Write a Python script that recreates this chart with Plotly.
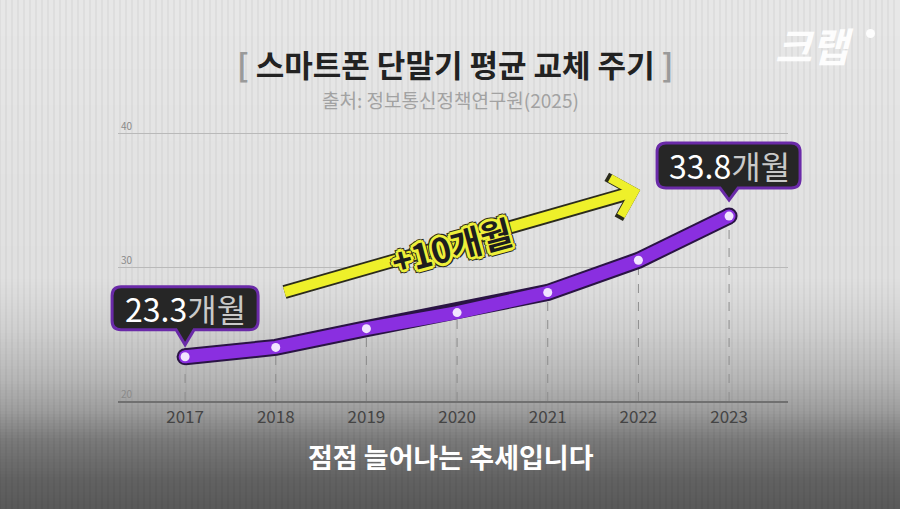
import plotly.graph_objects as go

# ---------------- data ----------------
years = [2017, 2018, 2019, 2020, 2021, 2022, 2023]
months = [23.3, 24.0, 25.4, 26.6, 28.1, 30.5, 33.8]
y_ticks = [20, 30, 40]
title_text = "스마트폰 단말기 평균 교체 주기"
source_text = "출처: 정보통신정책연구원(2025)"
caption_text = "점점 늘어나는 추세입니다"
growth_label = "+10개월"
unit_text = "개월"
logo_text = "크랩"
arrow_tail = (2018.08, 28.1)
arrow_head = (2022.02, 35.75)
label_pos = (2019.94, 31.6)

# ---------------- geometry helpers ----------------
W, H = 900, 509
ML, MR, MT, MB = 118, 112, 110, 108
PW, PH = W - ML - MR, H - MT - MB
FONT = "Noto Sans CJK KR"
X_RANGE = [2016.26, 2023.65]
Y_RANGE = [20, 20 + PH / 13.4]


def xp(p):
    return (p - ML) / PW


def yp(p):
    return (H - MB - p) / PH


def x_to_paper(v):
    return (v - X_RANGE[0]) / (X_RANGE[1] - X_RANGE[0])


def y_to_paper(v):
    return (v - Y_RANGE[0]) / (Y_RANGE[1] - Y_RANGE[0])


def bubble(xl, xr, yb, yt, r, tip, hw):
    return (f"M {xl + r},{yb} L {-hw},{yb} L 0,{tip} L {hw},{yb} L {xr - r},{yb} "
            f"Q {xr},{yb} {xr},{yb + r} L {xr},{yt - r} Q {xr},{yt} {xr - r},{yt} "
            f"L {xl + r},{yt} Q {xl},{yt} {xl},{yt - r} L {xl},{yb + r} Q {xl},{yb} {xl + r},{yb} Z")


shapes = []
# background gradient (pixel rows)
stops = [(0, 0xe8), (280, 0xe0), (330, 0xd0), (380, 0xb6), (410, 0x9e),
         (440, 0x7a), (480, 0x62), (509, 0x5a)]


def grey_at(p):
    for (p0, c0), (p1, c1) in zip(stops[:-1], stops[1:]):
        if p0 <= p <= p1:
            return int(c0 + (c1 - c0) * (p - p0) / (p1 - p0))
    return stops[-1][1]


step = 3
for p in range(0, 509, step):
    g = grey_at(p + step / 2)
    shapes.append(dict(type="rect", xref="paper", yref="paper", layer="below",
                       x0=xp(0), x1=xp(W), y0=yp(p + step + 0.5), y1=yp(p),
                       fillcolor=f"rgb({g},{g},{g})", line=dict(width=0)))
# vertical stripe texture
for p in range(0, W, 6):
    shapes.append(dict(type="line", xref="paper", yref="paper", layer="below",
                       x0=xp(p), x1=xp(p), y0=yp(H), y1=yp(0),
                       line=dict(color="rgba(0,0,0,0.035)", width=2)))
# dashed drop lines
for x, v in zip(years, months):
    shapes.append(dict(type="line", xref="x", yref="y", layer="below",
                       x0=x, x1=x, y0=y_ticks[0], y1=v,
                       line=dict(color="#8c8c8c", width=1, dash="dash")))
# callout bubbles (paper-anchored so they are not clipped)
shapes.append(dict(type="path", xref="paper", yref="paper", xsizemode="pixel", ysizemode="pixel",
                   xanchor=x_to_paper(years[0]), yanchor=y_to_paper(months[0]), layer="above",
                   path=bubble(-73, 73, 27, 70, 9, 12, 9),
                   fillcolor="#262626", line=dict(color="#6a2aa8", width=3)))
shapes.append(dict(type="path", xref="paper", yref="paper", xsizemode="pixel", ysizemode="pixel",
                   xanchor=x_to_paper(years[-1]), yanchor=y_to_paper(months[-1]), layer="above",
                   path=bubble(-72, 71, 28, 73, 9, 16, 9),
                   fillcolor="#262626", line=dict(color="#6a2aa8", width=3)))
# logo dot
shapes.append(dict(type="circle", xref="paper", yref="paper",
                   x0=xp(866), x1=xp(875), y0=yp(38), y1=yp(29),
                   fillcolor="rgba(255,255,255,0.9)", line=dict(width=0)))

ends_x = [years[0], years[-1]]
ends_y = [months[0], months[-1]]

fig = go.Figure()
fig.add_trace(go.Scatter(x=years, y=months, mode="lines",
                         line=dict(color="#2a1444", width=17), hoverinfo="skip"))
fig.add_trace(go.Scatter(x=ends_x, y=ends_y, mode="markers",
                         marker=dict(size=17, color="#2a1444"), hoverinfo="skip"))
fig.add_trace(go.Scatter(x=years, y=months, mode="lines",
                         line=dict(color="#8a2fe0", width=13), hoverinfo="skip"))
fig.add_trace(go.Scatter(x=ends_x, y=ends_y, mode="markers",
                         marker=dict(size=13, color="#8a2fe0"), hoverinfo="skip"))
fig.add_trace(go.Scatter(x=years, y=months, mode="markers",
                         marker=dict(size=9, color="#f1e4ff"), hoverinfo="skip"))

yel_shadow = ", ".join(f"{dx}px {dy}px 0 #eef03a" for dx, dy in
                       [(3, 0), (-3, 0), (0, 3), (0, -3), (2, 2), (-2, -2), (2, -2), (-2, 2)])
dark_shadow = ", ".join(f"{dx}px {dy}px 0 #2a2a1a" for dx, dy in
                        [(4, 0), (-4, 0), (0, 4), (0, -4), (3, 3), (-3, -3), (3, -3), (-3, 3)])

C = dict(xanchor="center", yanchor="middle")
annotations = [
    # yellow arrow (outline + fill)
    dict(x=arrow_head[0], y=arrow_head[1], ax=arrow_tail[0], ay=arrow_tail[1],
         xref="x", yref="y", axref="x", ayref="y", text="", showarrow=True,
         arrowhead=4, arrowwidth=14, arrowsize=0.6, arrowcolor="#2b2b1c"),
    dict(x=arrow_head[0], y=arrow_head[1], ax=arrow_tail[0], ay=arrow_tail[1],
         xref="x", yref="y", axref="x", ayref="y", text="", showarrow=True,
         arrowhead=4, arrowwidth=10.5, arrowsize=0.72, arrowcolor="#eef02a"),
    dict(x=label_pos[0], y=label_pos[1], xref="x", yref="y", text=growth_label,
         showarrow=False, textangle=-15, **C,
         font=dict(family=FONT, size=34, color="#1e1e1e", weight="bold",
                   shadow=yel_shadow + ", " + dark_shadow)),
    # value labels
    dict(x=years[0], y=months[0], xref="x", yref="y", showarrow=False, yshift=49, **C,
         text=f"<span style='color:#ffffff'>{months[0]}</span>"
              f"<span style='color:#c9c9c9'>{unit_text}</span>",
         font=dict(family=FONT, size=32)),
    dict(x=years[-1], y=months[-1], xref="x", yref="y", showarrow=False, yshift=51, **C,
         text=f"<span style='color:#ffffff'>{months[-1]}</span>"
              f"<span style='color:#c9c9c9'>{unit_text}</span>",
         font=dict(family=FONT, size=32)),
    # titles
    dict(x=xp(455), y=yp(64), xref="paper", yref="paper", showarrow=False, **C,
         text=f"<span style='color:#9a9a9a'>[</span> {title_text} "
              f"<span style='color:#9a9a9a'>]</span>",
         font=dict(family=FONT, size=31, color="#222222", weight="bold")),
    dict(x=xp(450), y=yp(100), xref="paper", yref="paper", showarrow=False, **C,
         text=source_text, font=dict(family=FONT, size=19, color="#a2a2a2")),
    dict(x=xp(451), y=yp(456), xref="paper", yref="paper", showarrow=False, **C,
         text=caption_text, font=dict(family=FONT, size=27, color="#ffffff", weight="bold")),
    dict(x=xp(814), y=yp(45), xref="paper", yref="paper", showarrow=False, **C,
         text=logo_text, font=dict(family=FONT, size=40, color="rgba(255,255,255,0.95)",
                                   weight="bold", style="italic")),
]

fig.update_layout(
    width=W, height=H,
    margin=dict(l=ML, r=MR, t=MT, b=MB),
    paper_bgcolor="#e8e8e8", plot_bgcolor="rgba(0,0,0,0)",
    showlegend=False,
    shapes=shapes, annotations=annotations,
    xaxis=dict(range=X_RANGE, tickvals=years, ticktext=[str(y) for y in years],
               showgrid=False, zeroline=False, showline=True, linecolor="#707070",
               linewidth=1.5, ticks="", tickfont=dict(family=FONT, size=17, color="#444444")),
    yaxis=dict(range=Y_RANGE, tickvals=y_ticks, showgrid=True, gridcolor="#b9b9b9",
               gridwidth=1, zeroline=False, showline=False, ticks="",
               ticklabelposition="inside top",
               tickfont=dict(family=FONT, size=10, color="#8a8a8a")),
)

fig.write_html("out.html")
